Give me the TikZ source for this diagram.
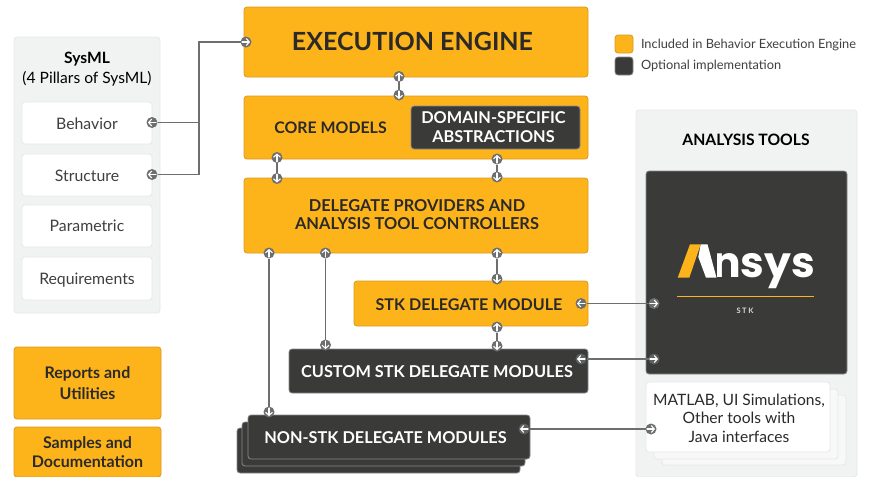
\documentclass[tikz,border=0pt]{standalone}
\usepackage{fontspec}
\setmainfont{Lato}
\newfontfamily\logofont{Poppins}[UprightFont=* Bold]
\usetikzlibrary{arrows.meta,calc}
\definecolor{amber}{HTML}{FDB41B}
\definecolor{amberedge}{HTML}{D99A1E}
\definecolor{slate}{HTML}{3A3B39}
\definecolor{slateedge}{HTML}{87898A}
\definecolor{panelfill}{HTML}{F1F2F2}
\definecolor{paneledge}{HTML}{E6E7E7}
\definecolor{portgray}{HTML}{6D6E70}
\definecolor{inkdark}{HTML}{2B2A28}
\definecolor{inkmid}{HTML}{3F3F3F}
\tikzset{
  base/.style={rectangle,rounded corners=3pt,inner sep=0pt,outer sep=0pt,align=center,line width=.8pt},
  ambox/.style={base,fill=amber,draw=amberedge,text=inkdark,font=\bfseries\fontsize{16.2}{18}\selectfont},
  dkbox/.style={base,fill=slate,draw=slateedge,text=white,font=\bfseries\fontsize{16.2}{18}\selectfont},
  panel/.style={base,fill=panelfill,draw=paneledge},
  whitebox/.style={base,fill=white,draw=paneledge,text=inkmid,font=\fontsize{15.8}{18}\selectfont,text height=14pt},
  ghost/.style={base,fill=white!50!panelfill,draw=paneledge},
  conn/.style={draw=portgray,line width=1.1pt},
  arrowline/.style={draw=white,line width=1.1pt,line cap=round,-{Straight Barb[length=3pt,width=7pt]}},
  port/.style={circle,fill=portgray,inner sep=0pt,outer sep=0pt,minimum size=11pt},
  portU/.style={port,path picture={\draw[arrowline] ([yshift=-4pt]path picture bounding box.center) -- ([yshift=4pt]path picture bounding box.center);}},
  portD/.style={port,path picture={\draw[arrowline] ([yshift=4pt]path picture bounding box.center) -- ([yshift=-4pt]path picture bounding box.center);}},
  portL/.style={port,path picture={\draw[arrowline] ([xshift=4pt]path picture bounding box.center) -- ([xshift=-4pt]path picture bounding box.center);}},
  portR/.style={port,path picture={\draw[arrowline] ([xshift=-4pt]path picture bounding box.center) -- ([xshift=4pt]path picture bounding box.center);}},
  plain/.style={inner sep=0pt,outer sep=0pt,align=center},
}
\begin{document}
\begin{tikzpicture}[x=1pt,y=-1pt]
\useasboundingbox (0,0) rectangle (871,477);
% SysML panel
\node[panel,minimum width=146pt,minimum height=276pt] (sysml) at (87,175) {};
\node[plain,text=black,font=\fontsize{15.6}{20}\selectfont] (sysmlt) at (87,69) {\textbf{SysML}\\(4 Pillars of SysML)};
\node[whitebox,minimum width=130pt,minimum height=42pt] (behavior) at (87,123) {Behavior};
\node[whitebox,minimum width=130pt,minimum height=42pt] (structure) at (87,175) {Structure};
\node[whitebox,text height=12pt,minimum width=130pt,minimum height=42pt] (parametric) at (87,226) {Parametric};
\node[whitebox,minimum width=130pt,minimum height=43pt] (requirements) at (87,278.5) {Requirements};
% lower left
\node[ambox,font=\fontsize{16}{21}\selectfont\bfseries,minimum width=147pt,minimum height=72pt] (reports) at (87.5,383) {Reports and\\Utilities};
\node[ambox,font=\fontsize{16}{19}\selectfont\bfseries,minimum width=147pt,minimum height=50pt] (samples) at (87.5,452) {Samples and\\Documentation};
% main stack
\node[ambox,minimum width=344pt,minimum height=70pt] (exec) at (416,42) {};
\node[plain,text=inkdark,font=\bfseries\fontsize{25}{28}\selectfont] (exect) at (412.5,41) {EXECUTION ENGINE};
\node[ambox,minimum width=344pt,minimum height=63pt] (core) at (416,127.5) {};
\node[plain,text=inkdark,font=\bfseries\fontsize{15.9}{18}\selectfont] (coret) at (330.5,128) {CORE MODELS};
\node[dkbox,minimum width=169pt,minimum height=43pt] (domain) at (495.5,127.5) {};
\node[plain,text=white,font=\bfseries\fontsize{16.3}{19.5}\selectfont] (domaint) at (493.5,127) {DOMAIN-SPECIFIC\\ABSTRACTIONS};
\node[ambox,minimum width=344pt,minimum height=75pt] (deleg) at (416,215.5) {};
\node[plain,text=inkdark,font=\bfseries\fontsize{16.4}{18}\selectfont] (delegt) at (417,215) {DELEGATE PROVIDERS AND\\ANALYSIS TOOL CONTROLLERS};
\node[ambox,minimum width=234pt,minimum height=45pt] (stk) at (471,303.5) {};
\node[plain,text=inkdark,font=\bfseries\fontsize{16.1}{18}\selectfont] (stkt) at (469,304.5) {STK DELEGATE MODULE};
\node[dkbox,minimum width=299pt,minimum height=44pt] (custom) at (438.5,371) {};
\node[plain,text=white,font=\bfseries\fontsize{16.3}{18}\selectfont] (customt) at (437,372) {CUSTOM STK DELEGATE MODULES};
\node[dkbox,minimum width=283pt,minimum height=45pt] (nonc) at (378.5,450.5) {};
\node[dkbox,minimum width=283pt,minimum height=44pt] (nonb) at (383.5,444) {};
\node[dkbox,minimum width=282pt,minimum height=44pt] (nona) at (389,437) {};
\node[plain,text=white,font=\bfseries\fontsize{16.3}{18}\selectfont] (nont) at (385.5,437.5) {NON-STK DELEGATE MODULES};
% legend
\node[ambox,minimum width=18pt,minimum height=18pt] (legA) at (624,44) {};
\node[dkbox,minimum width=18pt,minimum height=18pt] (legB) at (624,66) {};
\node[plain,anchor=west,text=inkmid,font=\fontsize{12.8}{14}\selectfont] (legAt) at (641,44.5) {Included in Behavior Execution Engine};
\node[plain,anchor=west,text=inkmid,font=\fontsize{12.8}{14}\selectfont] (legBt) at (641,66) {Optional implementation};
% analysis tools
\node[panel,minimum width=221pt,minimum height=367pt] (tools) at (746.5,293.5) {};
\node[plain,text=black,font=\bfseries\fontsize{15.7}{18}\selectfont] (toolst) at (746,140) {ANALYSIS TOOLS};
\node[dkbox,minimum width=201pt,minimum height=203pt] (ansys) at (746.5,272.5) {};
\node[plain,anchor=base east,text=white,font=\logofont\fontsize{42.5}{50}\selectfont] (logo) at (815,277.7) {Ansys};
\fill[slate] (652,238) rectangle (716.5,281);
\fill[white] (700.7,244.3) -- (707.5,244.3) -- (716.5,277.7) -- (706,277.7) -- (698.3,257) -- cycle;
\fill[amber] (677.7,277.7) -- (690,244.3) -- (700.7,244.3) -- (689.3,277.7) -- cycle;
\coordinate (ruleL) at (677,296.7);
\coordinate (ruleR) at (814,296.7);
\draw[amber,line width=1pt] (ruleL) -- (ruleR);
\node[plain,text=white!85!black,font=\bfseries\fontsize{7.5}{9}\selectfont] (stklabel) at (745,310.5) {S\hspace{1.6pt}T\hspace{1.6pt}K};
\node[ghost,minimum width=184pt,minimum height=70pt] (m3) at (754,430) {};
\node[ghost,minimum width=184pt,minimum height=70pt] (m2) at (746,424) {};
\node[whitebox,minimum width=184pt,minimum height=70pt] (m1) at (738,417) {};
\node[plain,text=inkdark,font=\fontsize{15.6}{18.5}\selectfont] (m1t) at (739,418) {MATLAB, UI Simulations,\\Other tools with\\Java interfaces};
% ports
\node[portR] (pExec) at (246,42) {};
\node[portL] (pBeh) at (152,122.5) {};
\node[portL] (pStr) at (152,174.5) {};
\coordinate (jog) at (199,42);
\node[portU] (pExecD) at (399,76.5) {};
\node[portD] (pCoreT) at (399,95) {};
\node[portU] (pCoreL) at (277,157.5) {};
\node[portD] (pDelL) at (277,178.5) {};
\node[portU] (pCoreR) at (497,159) {};
\node[portD] (pDelR) at (497,177) {};
\node[portU] (pDelA) at (269,253) {};
\node[portD] (pNon) at (269,412) {};
\node[portU] (pDelB) at (325.5,253) {};
\node[portD] (pCus) at (325.5,345) {};
\node[portU] (pDelC) at (497,253) {};
\node[portD] (pStk) at (497,279) {};
\node[portU] (pStkB) at (497,327) {};
\node[portD] (pCusT) at (497,346) {};
\node[portL] (pStkR) at (581,303.5) {};
\node[portR] (pAnsA) at (654,303.5) {};
\node[portL,fill=portgray!70!slate] (pCusR) at (581,359) {};
\node[portR,fill=portgray!70!slate] (pAnsB) at (654,359) {};
\node[portL,fill=portgray!70!slate] (pNonR) at (524,429) {};
\node[portR] (pMat) at (651,429) {};
% connectors
\draw[conn] (pExec) -- (jog) |- (pStr);
\draw[conn] (pBeh) -- (pBeh -| jog);
\draw[conn] (pExecD) -- (pCoreT);
\draw[conn] (pCoreL) -- (pDelL);
\draw[conn] (pCoreR) -- (pDelR);
\draw[conn] (pDelA) -- (pNon);
\draw[conn] (pDelB) -- (pCus);
\draw[conn] (pDelC) -- (pStk);
\draw[conn] (pStkB) -- (pCusT);
\draw[conn] (pStkR) -- (pAnsA);
\draw[conn] (pCusR) -- (pAnsB);
\draw[conn] (pNonR) -- (pMat);
\end{tikzpicture}
\end{document}
